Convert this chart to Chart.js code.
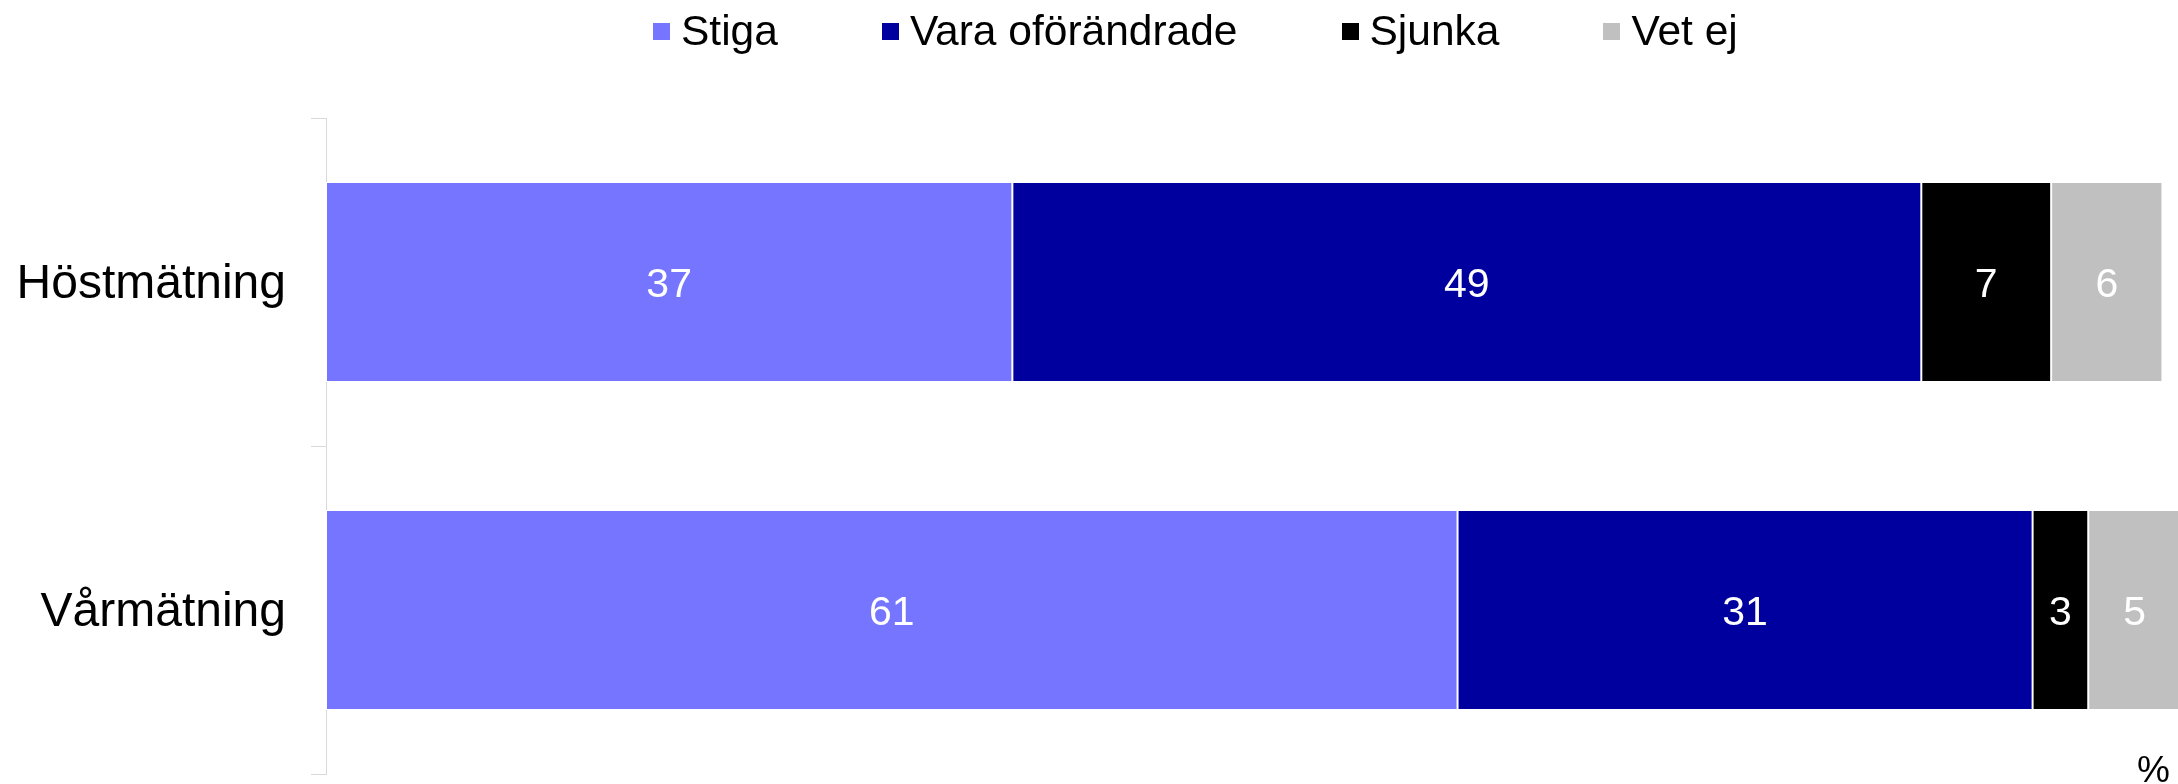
<!DOCTYPE html>
<html>
<head>
<meta charset="utf-8">
<script src="https://cdn.jsdelivr.net/npm/chart.js@4/dist/chart.umd.min.js"></script>
<style>
    body { margin: 0; overflow: hidden; background: white; font-family: 'Liberation Sans', Arial, sans-serif; }
    #contenedor { position: relative; width: 2178px; height: 784px; overflow: hidden; }
    #grafico { position: absolute; left: 0; top: 0; }
    #leyenda { position: absolute; left: 653px; top: 6px; display: flex; gap: 104px; font-size: 42.5px; color: black; }
    .item { display: flex; align-items: center; height: 50px; }
    .caja { width: 17px; height: 17px; margin-right: 11px; }
</style>
</head>
<body>
<div id="contenedor">
    <canvas id="grafico" width="2181" height="784"></canvas>
    <div id="leyenda"></div>
</div>
<script>
const categorias = ['Höstmätning', 'Vårmätning']
const series = ['Stiga', 'Vara oförändrade', 'Sjunka', 'Vet ej']
const colores = ['#7575FF', '#00009F', '#000000', '#C0C0C0']
const stiga = [37, 61]
const varaOforandrade = [49, 31]
const sjunka = [7, 3]
const vetEj = [6, 5]
const valores = [stiga, varaOforandrade, sjunka, vetEj]
const unidad = '%'

const fuente = "'Liberation Sans', Arial, sans-serif"

// leyenda en html
const leyenda = document.querySelector('#leyenda')
series.forEach((nombre, i) => {
    const item = document.createElement('div')
    item.className = 'item'
    item.innerHTML = `<span class="caja" style="background:${colores[i]}"></span><span>${nombre}</span>`
    leyenda.appendChild(item)
})

// etiquetas blancas dentro de las barras y el signo %
const etiquetas = {
    id: 'etiquetas',
    afterDatasetsDraw(chart) {
        const ctx = chart.ctx
        ctx.save()
        ctx.font = `41px ${fuente}`
        ctx.fillStyle = 'white'
        ctx.textAlign = 'center'
        ctx.textBaseline = 'middle'
        chart.data.datasets.forEach((ds, i) => {
            chart.getDatasetMeta(i).data.forEach((barra, j) => {
                const x = (barra.x + barra.base) / 2
                ctx.fillText(ds.data[j], x, barra.y + 4)
            })
        })
        ctx.font = `37px ${fuente}`
        ctx.fillStyle = 'black'
        ctx.textAlign = 'right'
        ctx.textBaseline = 'alphabetic'
        ctx.fillText(unidad, 2170, 782)
        ctx.restore()
    }
}

const config = {
    type: 'bar',
    data: {
        labels: categorias,
        datasets: series.map((nombre, i) => ({
            label: nombre,
            data: valores[i],
            backgroundColor: colores[i],
            borderColor: 'white',
            borderWidth: 1,
            borderSkipped: false,
            categoryPercentage: 1,
            barPercentage: 0.61
        }))
    },
    options: {
        indexAxis: 'y',
        responsive: false,
        animation: false,
        layout: { padding: { top: 118, bottom: 10, left: 0, right: 0 } },
        plugins: {
            legend: { display: false },
            tooltip: { enabled: false }
        },
        scales: {
            x: { stacked: true, min: 0, max: 100, display: false },
            y: {
                stacked: true,
                afterFit: (escala) => {
                    escala.width = 326
                    escala.paddingTop = 0
                    escala.paddingBottom = 0
                },
                grid: { drawOnChartArea: false, drawTicks: true, tickLength: 15, color: '#d9d9d9', offset: true },
                border: { display: true, color: '#d9d9d9' },
                ticks: { color: 'black', padding: 25, labelOffset: 3, font: { family: fuente, size: 48 } }
            }
        }
    },
    plugins: [etiquetas]
}

const chart = new Chart(document.querySelector('#grafico'), config)
</script>
</body>
</html>
